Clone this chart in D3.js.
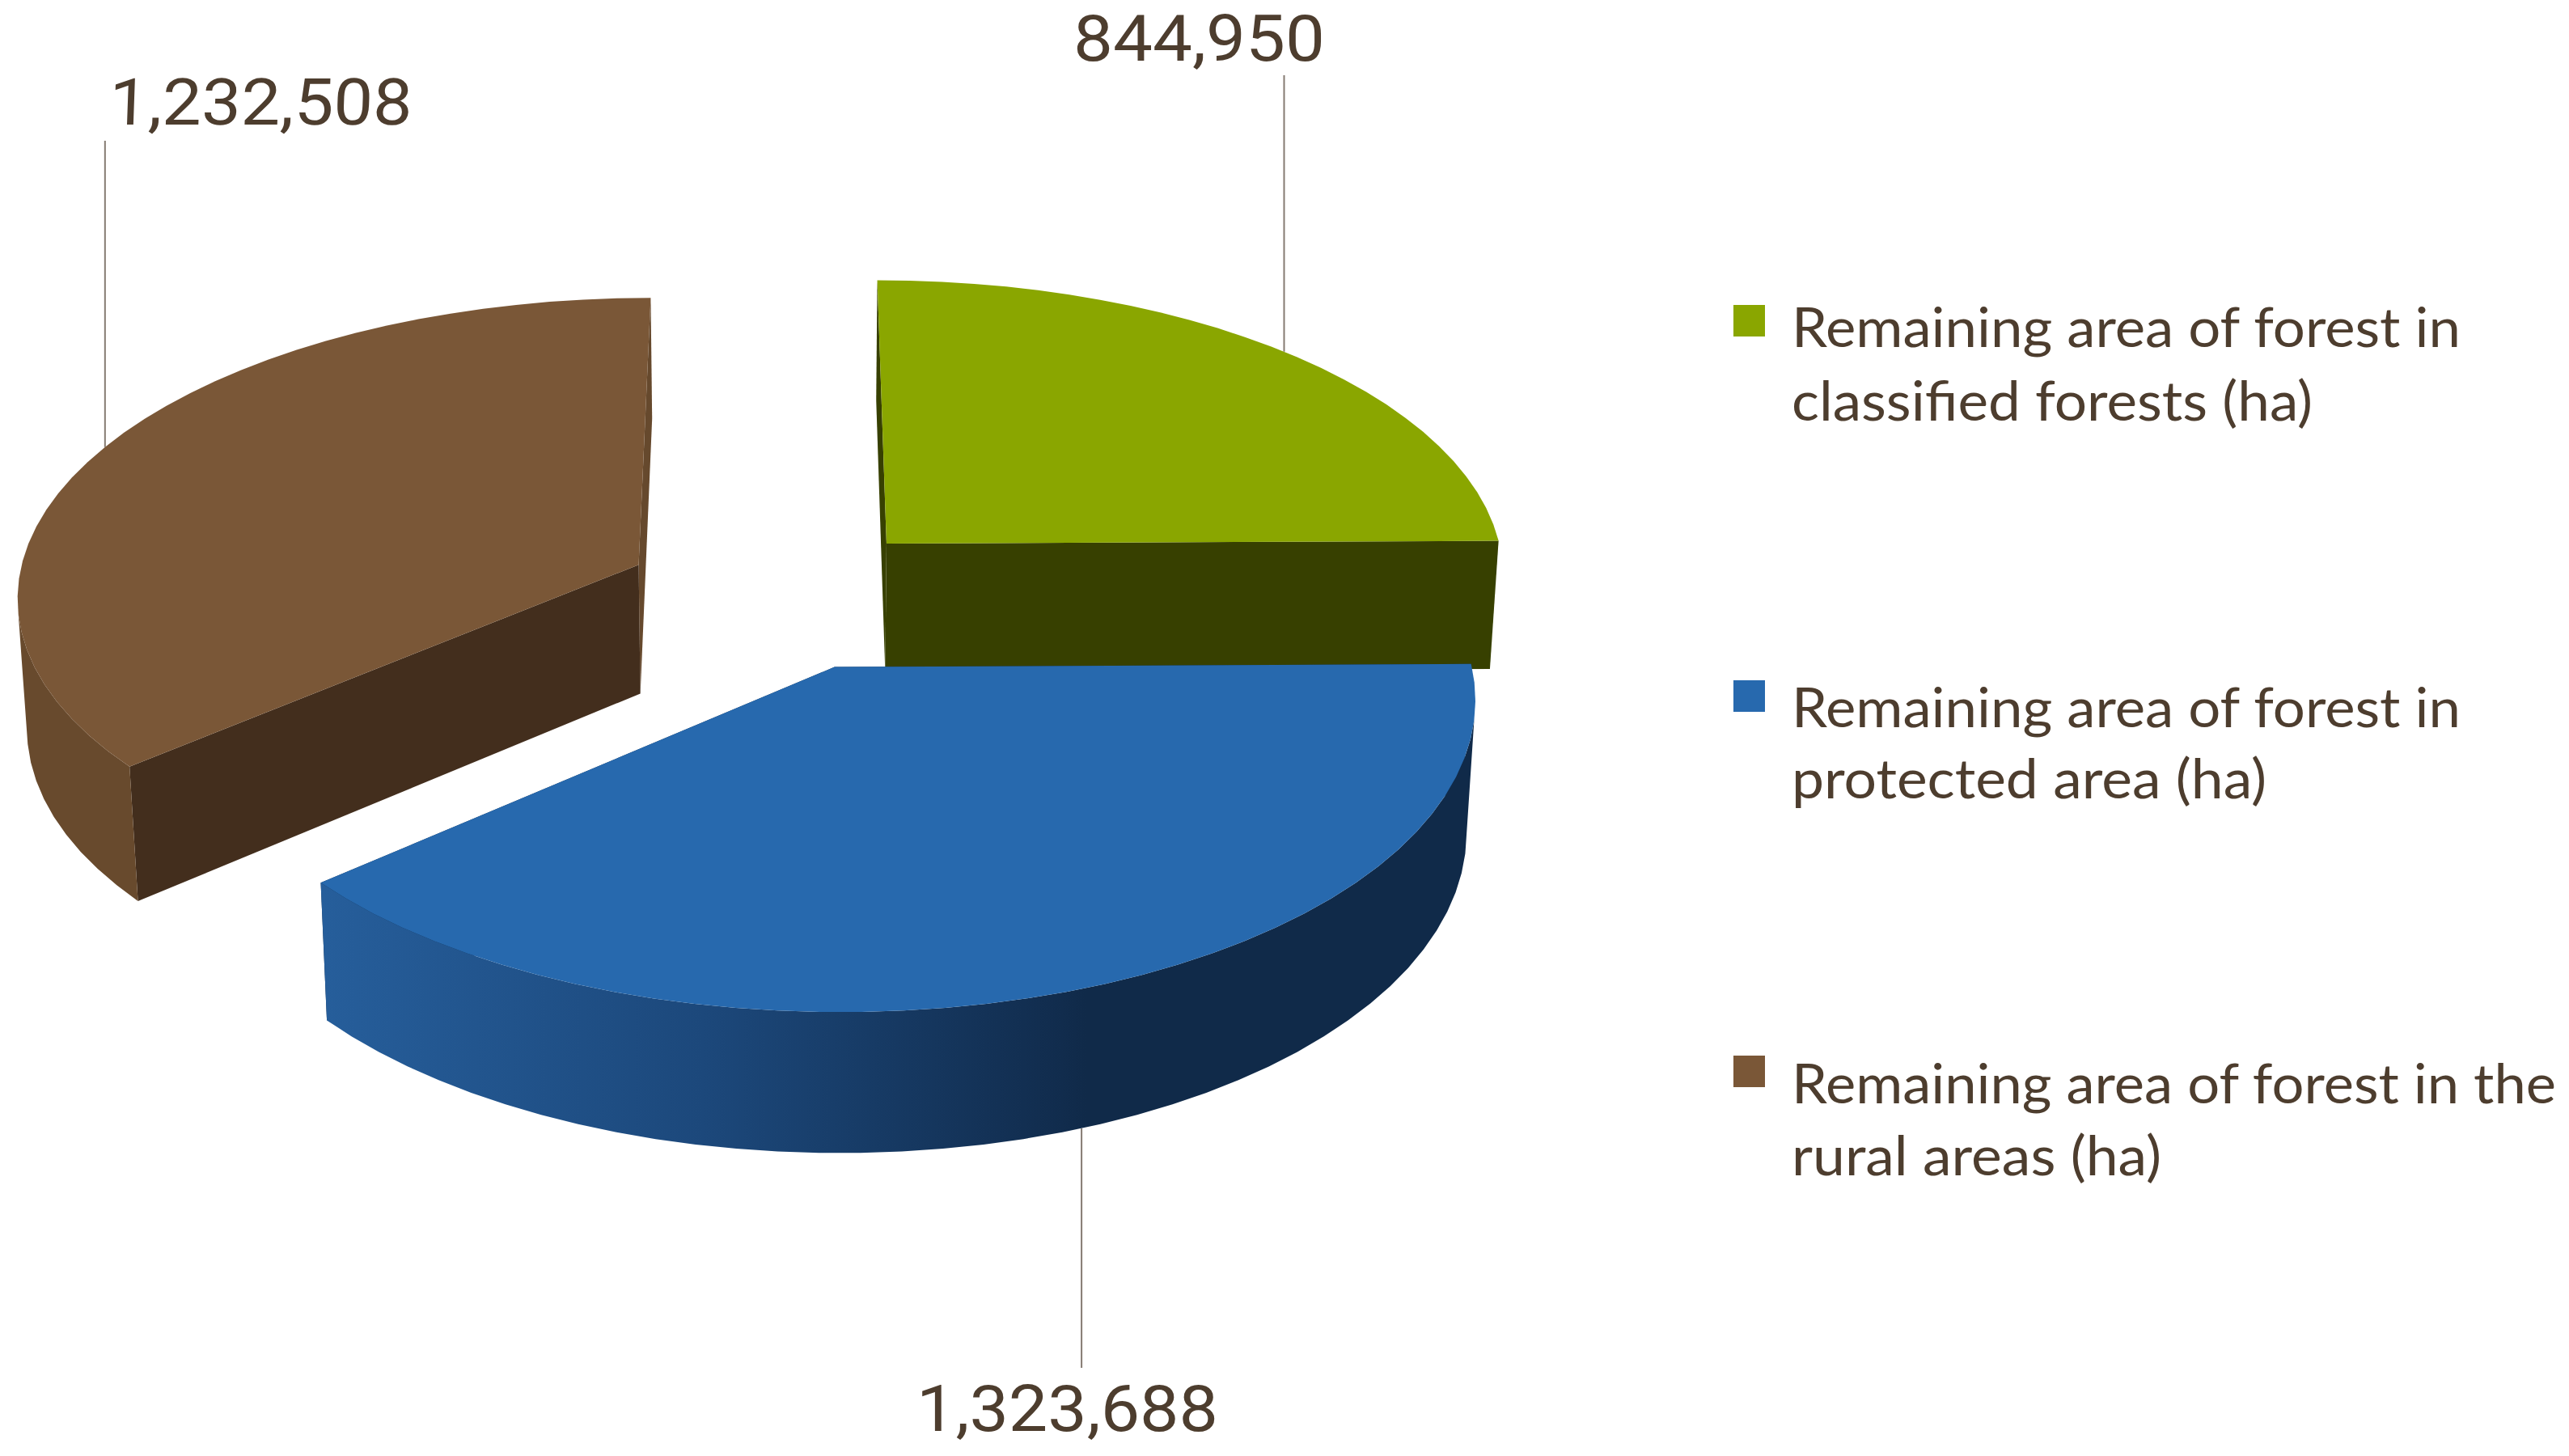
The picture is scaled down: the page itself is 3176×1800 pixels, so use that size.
<!DOCTYPE html>
<html><head><meta charset="utf-8">
<script src="https://cdn.jsdelivr.net/npm/d3@7/dist/d3.min.js"></script>
<style>html,body{margin:0;padding:0;background:#fff;overflow:hidden}svg{display:block}</style>
</head><body>
<script>
// ---- data ----
const categories = [
  ["Remaining area of forest in", "classified forests (ha)"],
  ["Remaining area of forest in", "protected area (ha)"],
  ["Remaining area of forest in the", "rural areas (ha)"]
];
const values = [844950, 1323688, 1232508];
// ---- styles ----
const topColors = ["#8aa600", "#2769ae", "#7a5737"];
const wallColors = ["#374000", "url(#blueWall)", "#684a2d"];
const startWallColors = ["#374000", "#102a49", "#432e1d"];
const endWallColors = ["#374000", "#102a49", "#66492d"];
const blueStops = [[0, "#265e9b"], [0.5, "#1c487b"], [0.97, "#112c4d"], [1, "#102a49"]];
const textColor = "#4d3d2e";
// ---- layout ----
const W = 3176, H = 1800;
const cam = {cx: 962.7, cy: 736.4, f: 7118, D: 9.24, cos: 0.478, sin: 0.878};
const explode = 0.25, depth = 0.24, arcStep = 0.06;
const labelTopY = [93, 1691, 174];   // leader free ends
const labelX = [1327, 1133, 134];
const labelBase = [74.5, 1769, 154];
const labelW = [311, 373, 375];
const labelSkew = [0, 0, -2];
const legendX = 2143, legendBox = 39, legendTextX = 2215;
const legendBoxY = [377, 841, 1305];
const legendBase = [[429, 519.6], [898.5, 987], [1364, 1453]];
const legendW = [[827, 644], [827, 587], [945, 457]];

const svg = d3.select("body").append("svg").attr("width", W).attr("height", H).attr("viewBox", [0, 0, W, H]);
svg.append("rect").attr("width", W).attr("height", H).attr("fill", "#fff");

const project = ([X, Y, Z]) => {
  const z = cam.D - Y * cam.sin - Z * cam.cos;
  return [cam.cx + cam.f * X / z, cam.cy + cam.f * (Y * cam.cos - Z * cam.sin) / z];
};
const line = d3.line();
const arcs = d3.pie().sort(null).startAngle(0).endAngle(2 * Math.PI)(values);

const slices = arcs.map((a, i) => {
  const mid = (a.startAngle + a.endAngle) / 2;
  const ox = explode * Math.sin(mid), oy = -explode * Math.cos(mid);
  const pt = (t, z) => [ox + Math.sin(t), oy - Math.cos(t), z];
  const n = Math.ceil((a.endAngle - a.startAngle) / arcStep);
  const ts = d3.range(n + 1).map(k => a.startAngle + (a.endAngle - a.startAngle) * k / n);
  return {i, a, mid, pt, ts, center: z => [ox, oy, z]};
});

const left = project(slices[1].pt(slices[1].a.endAngle, 0))[0];
const grad = svg.append("defs").append("linearGradient").attr("id", "blueWall")
  .attr("gradientUnits", "userSpaceOnUse").attr("x1", left).attr("x2", project(slices[1].pt(slices[1].mid, 0))[0]).attr("y1", 0).attr("y2", 0);
grad.selectAll("stop").data(blueStops).join("stop").attr("offset", d => d[0]).attr("stop-color", d => d[1]);

// leaders (behind the pie)
const anchor = d => project(d.pt(d.mid, d.i === 1 ? -depth : 0));
svg.selectAll(".leader").data(slices).join("line").attr("class", "leader")
  .attr("x1", d => anchor(d)[0]).attr("y1", d => anchor(d)[1])
  .attr("x2", d => anchor(d)[0]).attr("y2", d => labelTopY[d.i])
  .attr("stroke", "#857b72").attr("stroke-width", 2);

// draw order back to front: green, brown, blue
[0, 2, 1].forEach(idx => {
  const s = slices[idx];
  const g = svg.append("g");
  const radial = t => [project(s.center(0)), project(s.pt(t, 0)), project(s.pt(t, -depth)), project(s.center(-depth))];
  g.append("path").attr("d", line(radial(s.a.endAngle)) + "Z").attr("fill", endWallColors[idx]);
  g.append("path").attr("d", line(radial(s.a.startAngle)) + "Z").attr("fill", startWallColors[idx]);
  // outer wall: only the arc steps that face the camera, as one clean polygon
  const facing = d3.pairs(s.ts).filter(([t0, t1]) =>
    d3.polygonArea([project(s.pt(t0, 0)), project(s.pt(t1, 0)), project(s.pt(t1, -depth)), project(s.pt(t0, -depth))]) > 0);
  if (facing.length) {
    const vis = [facing[0][0], ...facing.map(p => p[1])];
    const wall = vis.map(t => project(s.pt(t, 0))).concat(vis.slice().reverse().map(t => project(s.pt(t, -depth))));
    g.append("path").attr("d", line(wall) + "Z").attr("fill", wallColors[idx]);
  }
  const top = [project(s.center(0))].concat(s.ts.map(t => project(s.pt(t, 0))));
  g.append("path").attr("d", line(top) + "Z").attr("fill", topColors[idx]);
});

// value labels
const fmt = d3.format(",");
svg.selectAll(".val").data(values).join("text").attr("class", "val")
  .attr("transform", (d, i) => `translate(${labelX[i]},${labelBase[i]}) skewX(${labelSkew[i]})`)
  .attr("font-family", "Roboto").attr("font-size", 80).attr("fill", textColor)
  .attr("textLength", (d, i) => labelW[i]).attr("lengthAdjust", "spacingAndGlyphs")
  .text(d => fmt(d));

// legend
const lg = svg.selectAll(".lg").data(categories).join("g").attr("class", "lg");
lg.append("rect").attr("x", legendX).attr("y", (d, i) => legendBoxY[i])
  .attr("width", legendBox).attr("height", legendBox).attr("fill", (d, i) => topColors[i]);
lg.each(function (d, i) {
  d3.select(this).selectAll("text").data(d).join("text")
    .attr("x", legendTextX).attr("y", (t, j) => legendBase[i][j])
    .attr("font-family", "Lato").attr("font-size", 68).attr("fill", textColor)
    .attr("textLength", (t, j) => legendW[i][j]).attr("lengthAdjust", "spacingAndGlyphs")
    .text(t => t);
});
</script>
</body></html>
